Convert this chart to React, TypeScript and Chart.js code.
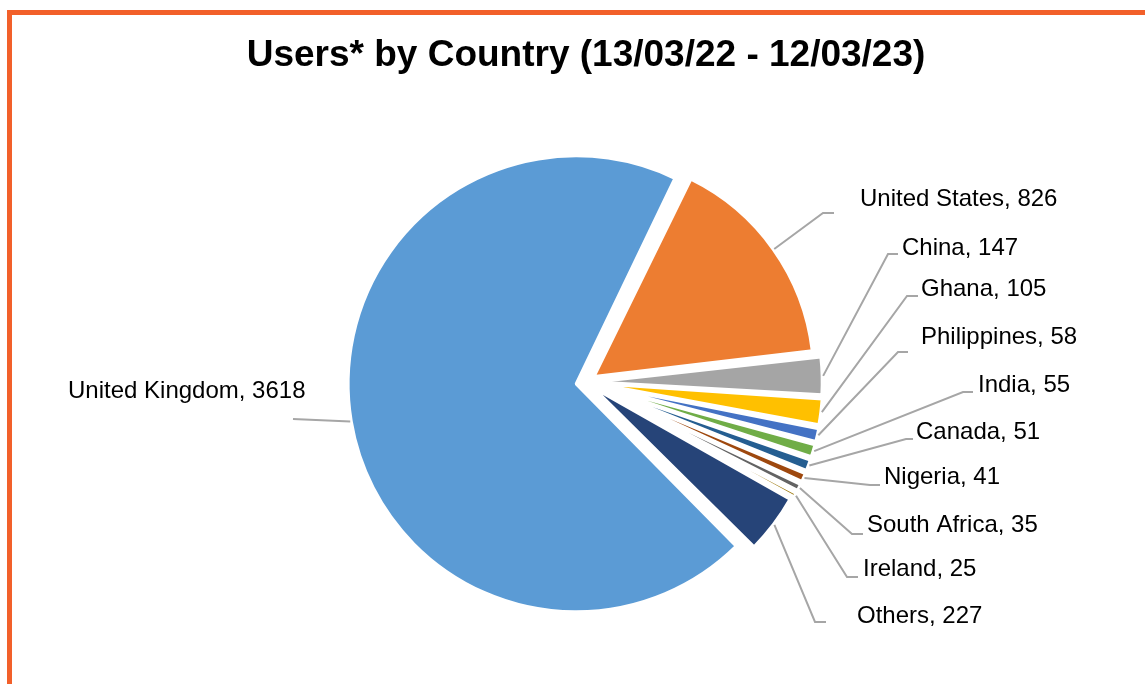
import React, { useEffect, useRef } from 'react';
import { Chart, registerables } from 'chart.js';

Chart.register(...registerables);

// ---- data ----
const countries = [
  'United Kingdom',
  'United States',
  'China',
  'Ghana',
  'Philippines',
  'India',
  'Canada',
  'Nigeria',
  'South Africa',
  'Ireland',
  'Others',
];
const users = [3618, 826, 147, 105, 58, 55, 51, 41, 35, 25, 227];
const sliceColors = [
  '#5B9BD5',
  '#ED7D31',
  '#A5A5A5',
  '#FFC000',
  '#4472C4',
  '#70AD47',
  '#255E91',
  '#9E480E',
  '#636363',
  '#997300',
  '#264478',
];
const titleText = 'Users* by Country (13/03/22 - 12/03/23)';

// ---- label layout (page pixels) ----
const labelAnchors = [
  [68, 391],
  [860, 199],
  [902, 248],
  [921, 289],
  [921, 337],
  [978, 385],
  [916, 432],
  [884, 477],
  [867, 525],
  [863, 569],
  [857, 616],
];
const leaderElbows = [
  [293, 419],
  [823, 213],
  [888, 254],
  [907, 296],
  [898, 352],
  [963, 392],
  [906, 439],
  [870, 485],
  [852, 534],
  [847, 577],
  [815, 622],
];
const leaderEnds = [
  [293, 419],
  [834, 213],
  [898, 254],
  [918, 296],
  [908, 352],
  [973, 392],
  [913, 439],
  [880, 485],
  [863, 534],
  [858, 577],
  [826, 622],
];

const FONT = '"Liberation Sans", Arial, sans-serif';

const leaderLabels = {
  id: 'leaderLabels',
  afterDatasetsDraw(chart: any) {
    const ctx = chart.ctx as CanvasRenderingContext2D;
    const meta = chart.getDatasetMeta(0);
    ctx.save();
    meta.data.forEach((arc: any, i: number) => {
      const { x, y, startAngle, endAngle, outerRadius, circumference } = arc;
      const off = (arc.options.offset || 0) / 4;
      const mid = (startAngle + endAngle) / 2;
      const fix = 1 - Math.sin(Math.min(Math.PI, circumference || 0));
      const r = outerRadius + off * fix + off + 1;
      const sx = x + Math.cos(mid) * r;
      const sy = y + Math.sin(mid) * r;
      ctx.beginPath();
      ctx.moveTo(sx, sy);
      ctx.lineTo(leaderElbows[i][0], leaderElbows[i][1]);
      ctx.lineTo(leaderEnds[i][0], leaderEnds[i][1]);
      ctx.strokeStyle = '#A6A6A6';
      ctx.lineWidth = 2;
      ctx.stroke();
      ctx.fillStyle = '#000000';
      ctx.font = `24px ${FONT}`;
      ctx.textBaseline = 'middle';
      ctx.textAlign = 'left';
      ctx.fillText(`${countries[i]}, ${users[i]}`, labelAnchors[i][0], labelAnchors[i][1]);
    });
    ctx.restore();
  },
};

export default function App() {
  const canvasRef = useRef<HTMLCanvasElement | null>(null);

  useEffect(() => {
    document.documentElement.style.overflow = 'hidden';
    document.body.style.margin = '0';
    document.body.style.overflow = 'hidden';
    const canvas = canvasRef.current;
    if (!canvas) return;
    const chart = new Chart(canvas, {
      type: 'pie',
      data: {
        labels: countries,
        datasets: [
          {
            data: users,
            backgroundColor: sliceColors,
            borderColor: '#FFFFFF',
            borderWidth: 3,
            offset: 40,
            hoverOffset: 40,
          },
        ],
      },
      options: {
        responsive: true,
        maintainAspectRatio: false,
        animation: false,
        events: [],
        rotation: 135,
        radius: 218,
        layout: { padding: { left: 27, right: 0, top: 0, bottom: 4 } },
        plugins: {
          legend: { display: false },
          tooltip: { enabled: false },
          title: {
            display: true,
            text: titleText,
            color: '#000000',
            font: { family: FONT, size: 37, weight: 'bold', lineHeight: 1.2 },
            padding: { top: 34, bottom: 6 },
          },
        },
      },
      plugins: [leaderLabels],
    });
    return () => chart.destroy();
  }, []);

  return (
    <>
      <div
        style={{
          position: 'fixed',
          left: 7,
          top: 10,
          width: 1300,
          height: 900,
          border: '5px solid #F2602A',
          boxSizing: 'border-box',
          background: '#FFFFFF',
        }}
      />
      <div style={{ position: 'fixed', left: 0, top: 0, width: 1145, height: 684 }}>
        <canvas ref={canvasRef} />
      </div>
    </>
  );
}
